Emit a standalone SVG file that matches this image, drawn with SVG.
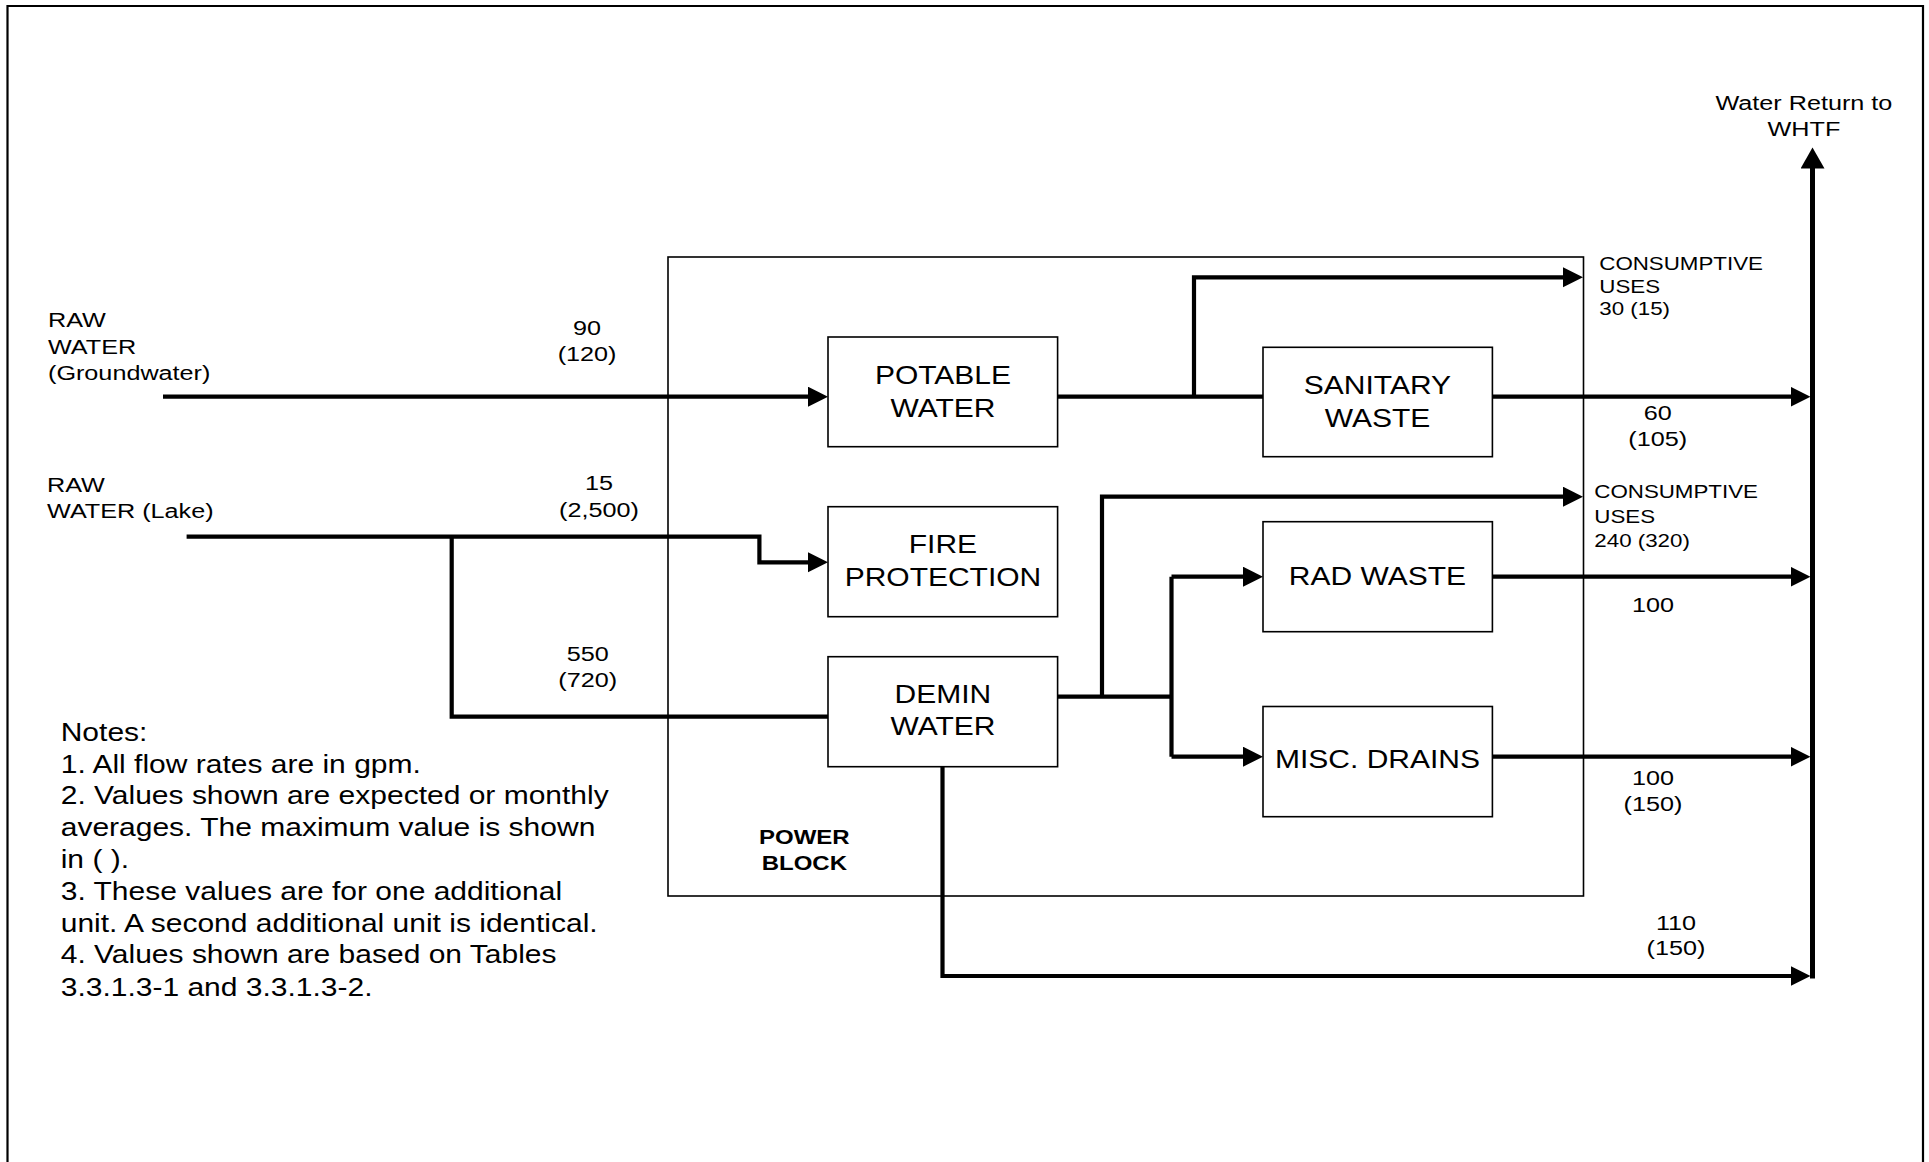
<svg xmlns="http://www.w3.org/2000/svg" width="1929" height="1162" viewBox="0 0 1929 1162">
<style>
text{font-family:"Liberation Sans",Arial,sans-serif;fill:#000}
.box{fill:#fff;stroke:#000;stroke-width:1.6}
.blk{fill:none;stroke:#000;stroke-width:1.6}
.ln{fill:none;stroke:#000;stroke-width:4.2;stroke-linejoin:miter}
.bt{font-size:25px;text-anchor:middle}
.lb{font-size:21px}
.num{font-size:21px;text-anchor:middle}
.cu{font-size:18.6px}
.nt{font-size:25px}
.pb{font-size:20px;font-weight:bold;text-anchor:middle}
</style>
<defs>
<marker id="ah" markerUnits="userSpaceOnUse" markerWidth="22" markerHeight="22" refX="10" refY="10" orient="auto">
<path d="M0,0 L20,10 L0,20 Z" fill="#000"/>
</marker>
<marker id="ahb" markerUnits="userSpaceOnUse" markerWidth="26" markerHeight="26" refX="10" refY="12" orient="auto">
<path d="M0,0 L21,12 L0,24 Z" fill="#000"/>
</marker>
</defs>
<rect width="1929" height="1162" fill="#fff"/>
<path d="M7.5,1170 V6 H1923 V1170" fill="none" stroke="#000" stroke-width="2.2"/>

<g id="power-block">
<rect class="blk" x="668" y="257" width="915.5" height="639"/>
<g transform="scale(1.2 1)"><text class="pb" x="670.3" y="844.3">POWER</text><text class="pb" x="670.3" y="870">BLOCK</text></g>
</g>

<g id="connectors">
<path class="ln" d="M163,396.7 H818" marker-end="url(#ah)"/>
<path class="ln" d="M186.6,536.7 H759.4 V562.3 H818" marker-end="url(#ah)"/>
<path class="ln" d="M451.7,536.7 V716.7 H829"/>
<path class="ln" d="M1057.6,396.7 H1263"/>
<path class="ln" d="M1194,396.7 V277.3 H1573" marker-end="url(#ah)"/>
<path class="ln" d="M1492.4,396.7 H1800.5" marker-end="url(#ah)"/>
<path class="ln" d="M1057.6,696.7 H1171.5"/>
<path class="ln" d="M1102,696.7 V496.7 H1573" marker-end="url(#ah)"/>
<path class="ln" d="M1171.5,576.7 V756.7"/>
<path class="ln" d="M1171.5,576.7 H1253" marker-end="url(#ah)"/>
<path class="ln" d="M1171.5,756.7 H1253" marker-end="url(#ah)"/>
<path class="ln" d="M1492.4,576.7 H1800.5" marker-end="url(#ah)"/>
<path class="ln" d="M1492.4,756.7 H1800.5" marker-end="url(#ah)"/>
<path class="ln" d="M942.5,766.7 V976 H1800.5" marker-end="url(#ah)"/>
<path class="ln" style="stroke-width:5" d="M1812.5,978.5 V158.5" marker-end="url(#ahb)"/>
</g>

<g id="raw-groundwater">
<g transform="scale(1.2 1)"><text class="lb" x="40" y="326.7">RAW</text><text class="lb" x="40" y="354">WATER</text><text class="lb" x="40" y="380">(Groundwater)</text></g>
</g>
<g id="raw-lake">
<g transform="scale(1.2 1)"><text class="lb" x="39.2" y="491.7">RAW</text><text class="lb" x="39.2" y="518.3">WATER (Lake)</text></g>
</g>

<g id="flow-labels" transform="scale(1.2 1)">
<text class="num" x="489.2" y="335">90</text><text class="num" x="489.2" y="361">(120)</text>
<text class="num" x="499.2" y="490">15</text><text class="num" x="499.2" y="516.7">(2,500)</text>
<text class="num" x="489.75" y="660.7">550</text><text class="num" x="489.75" y="687">(720)</text>
<text class="num" x="1381.4" y="420">60</text><text class="num" x="1381.4" y="446">(105)</text>
<text class="num" x="1377.5" y="612.3">100</text>
<text class="num" x="1377.5" y="785">100</text><text class="num" x="1377.5" y="811">(150)</text>
<text class="num" x="1396.7" y="930">110</text><text class="num" x="1396.7" y="955">(150)</text>
</g>

<g id="potable-water">
<rect class="box" x="828" y="337" width="229.6" height="109.7"/>
<g transform="scale(1.2 1)"><text class="bt" x="785.8" y="384">POTABLE</text><text class="bt" x="785.8" y="416.7">WATER</text></g>
</g>
<g id="fire-protection">
<rect class="box" x="828" y="506.7" width="229.6" height="110"/>
<g transform="scale(1.2 1)"><text class="bt" x="785.8" y="553.3">FIRE</text><text class="bt" x="785.8" y="585.7">PROTECTION</text></g>
</g>
<g id="demin-water">
<rect class="box" x="828" y="656.7" width="229.6" height="110"/>
<g transform="scale(1.2 1)"><text class="bt" x="785.8" y="703.3">DEMIN</text><text class="bt" x="785.8" y="735">WATER</text></g>
</g>
<g id="sanitary-waste">
<rect class="box" x="1263" y="347.3" width="229.4" height="109.4"/>
<g transform="scale(1.2 1)"><text class="bt" x="1147.9" y="394">SANITARY</text><text class="bt" x="1147.9" y="426.7">WASTE</text></g>
</g>
<g id="rad-waste">
<rect class="box" x="1263" y="521.7" width="229.4" height="110"/>
<g transform="scale(1.2 1)"><text class="bt" x="1147.9" y="585">RAD WASTE</text></g>
</g>
<g id="misc-drains">
<rect class="box" x="1263" y="706.5" width="229.4" height="110.2"/>
<g transform="scale(1.2 1)"><text class="bt" x="1147.9" y="768.3">MISC. DRAINS</text></g>
</g>

<g id="consumptive-uses-1" transform="scale(1.2 1)">
<text class="cu" x="1332.75" y="270">CONSUMPTIVE</text><text class="cu" x="1332.75" y="293.3">USES</text><text class="cu" x="1332.75" y="315">30 (15)</text>
</g>
<g id="consumptive-uses-2" transform="scale(1.2 1)">
<text class="cu" x="1328.6" y="498.3">CONSUMPTIVE</text><text class="cu" x="1328.6" y="522.7">USES</text><text class="cu" x="1328.6" y="546.7">240 (320)</text>
</g>
<g id="water-return" transform="scale(1.2 1)">
<text class="num" x="1503.3" y="110">Water Return to</text><text class="num" x="1503.3" y="136">WHTF</text>
</g>

<g id="notes" transform="scale(1.2 1)">
<text class="nt" x="50.6" y="741">Notes:</text>
<text class="nt" x="50.6" y="772.7">1. All flow rates are in gpm.</text>
<text class="nt" x="50.6" y="804.3">2. Values shown are expected or monthly</text>
<text class="nt" x="50.6" y="836">averages. The maximum value is shown</text>
<text class="nt" x="50.6" y="867.7">in ( ).</text>
<text class="nt" x="50.6" y="900">3. These values are for one additional</text>
<text class="nt" x="50.6" y="931.7">unit. A second additional unit is identical.</text>
<text class="nt" x="50.6" y="963.3">4. Values shown are based on Tables</text>
<text class="nt" x="50.6" y="995.7">3.3.1.3-1 and 3.3.1.3-2.</text>
</g>
</svg>
